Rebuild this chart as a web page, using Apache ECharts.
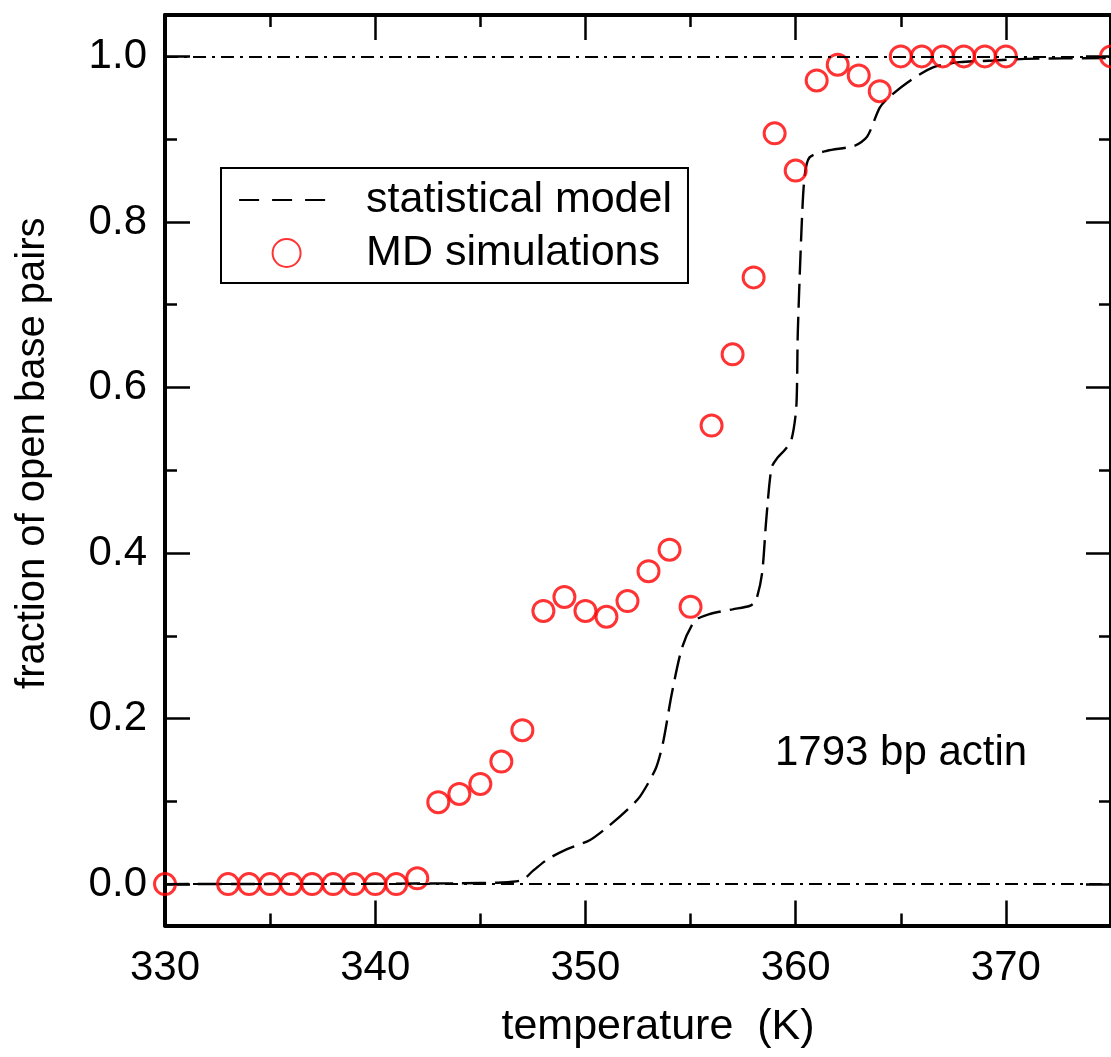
<!DOCTYPE html>
<html>
<head>
<meta charset="utf-8">
<script src="https://cdn.jsdelivr.net/npm/echarts@6/dist/echarts.min.js"></script>
<style>html,body{margin:0;padding:0;background:#fff}#c{width:1111px;height:1057px}</style>
</head>
<body>
<div id="c"></div>
<script>
// ---- data ----
const modelT = [330, 340, 344, 346, 347, 347.5, 348.2, 349.1, 350.2, 351.1, 352, 352.6, 353.35, 353.7, 354.1, 354.6, 355.2, 355.86, 357, 357.8, 358.1, 358.4, 358.6, 358.85, 359.1, 359.5, 359.8, 360.03, 360.1, 360.27, 360.42, 360.66, 361.5, 362.8, 363.4, 364.0, 364.5, 365.46, 366.56, 367.8, 369.4, 370.9, 375];
const modelF = [0, 0.0005, 0.001, 0.002, 0.005, 0.016, 0.03, 0.042, 0.053, 0.07, 0.09, 0.106, 0.14, 0.172, 0.229, 0.286, 0.318, 0.326, 0.332, 0.336, 0.342, 0.375, 0.44, 0.503, 0.514, 0.525, 0.537, 0.576, 0.665, 0.786, 0.854, 0.878, 0.886, 0.892, 0.903, 0.938, 0.952, 0.971, 0.987, 0.993, 0.995, 0.997, 0.998];
const mdT = [330, 333, 334, 335, 336, 337, 338, 339, 340, 341, 342, 343, 344, 345, 346, 347, 348, 349, 350, 351, 352, 353, 354, 355, 356, 357, 358, 359, 360, 361, 362, 363, 364, 365, 366, 367, 368, 369, 370, 375];
const mdF = [0, 0, 0, 0, 0, 0, 0, 0, 0, 0, 0.007, 0.099, 0.109, 0.121, 0.148, 0.186, 0.330, 0.347, 0.330, 0.323, 0.342, 0.378, 0.404, 0.335, 0.554, 0.640, 0.733, 0.907, 0.862, 0.971, 0.990, 0.977, 0.958, 1.0, 1.0, 1.0, 1.0, 1.0, 1.0, 1.0];
const refLines = [0, 1];
const xMajorTicks = [330, 340, 350, 360, 370];
const xMinorTicks = [335, 345, 355, 365];
const yMajorTicks = [0, 0.2, 0.4, 0.6, 0.8, 1.0];
const yMinorTicks = [0.1, 0.3, 0.5, 0.7, 0.9];
const seriesNames = ['statistical model', 'MD simulations'];
const xTitle = 'temperature  (K)';
const yTitle = 'fraction of open base pairs';
const annotation = '1793 bp actin';

// ---- chart ----
const FONT = '"Liberation Sans", Arial, Helvetica, sans-serif';
const chart = echarts.init(document.getElementById('c'), null, {renderer: 'canvas'});
const X = {min: 330, max: 375};
const Y = {min: -0.05, max: 1.05};

function xAx(pos, vals, len, showLine, labels) {
  return {
    type: 'value', position: pos, min: X.min, max: X.max,
    axisLine: {show: showLine, onZero: false, lineStyle: {color: '#000', width: 4}},
    axisTick: {show: true, inside: true, length: len, customValues: vals, lineStyle: {color: '#000', width: 2.5}},
    axisLabel: labels ? {show: true, customValues: vals, margin: 22, color: '#000', fontSize: 42, fontFamily: FONT} : {show: false},
    splitLine: {show: false}
  };
}
function yAx(pos, vals, len, showLine, labels) {
  return {
    type: 'value', position: pos, min: Y.min, max: Y.max,
    axisLine: {show: showLine, onZero: false, lineStyle: {color: '#000', width: 4}},
    axisTick: {show: true, inside: true, length: len, customValues: vals, lineStyle: {color: '#000', width: 2.5}},
    axisLabel: labels ? {show: true, customValues: vals, margin: 18, color: '#000', fontSize: 42, fontFamily: FONT,
      formatter: v => v.toFixed(1)} : {show: false},
    splitLine: {show: false}
  };
}

const xAxes = [
  xAx('bottom', xMajorTicks, 25, true, true),
  xAx('bottom', xMinorTicks, 12, false, false),
  xAx('top', xMajorTicks, 25, true, false),
  xAx('top', xMinorTicks, 12, false, false)
];
xAxes[0].name = xTitle;
xAxes[0].nameLocation = 'middle';
xAxes[0].nameGap = 80;
xAxes[0].nameTextStyle = {color: '#000', fontSize: 43, fontFamily: FONT, padding: [0, 0, 0, 40]};

const yAxes = [
  yAx('left', yMajorTicks, 25, true, true),
  yAx('left', yMinorTicks, 12, false, false),
  yAx('right', yMajorTicks, 25, true, false),
  yAx('right', yMinorTicks, 12, false, false)
];
yAxes[0].name = yTitle;
yAxes[0].nameLocation = 'middle';
yAxes[0].nameGap = 112;
yAxes[0].nameTextStyle = {color: '#000', fontSize: 40, fontFamily: FONT, padding: [0, 0, 0, 34]};

const option = {
  backgroundColor: '#fff',
  animation: false,
  grid: {left: 165, top: 15, width: 954, height: 910.5, containLabel: false},
  xAxis: xAxes,
  yAxis: yAxes,
  legend: {
    show: true, orient: 'vertical', left: 221, top: 168,
    backgroundColor: '#fff', borderColor: '#000', borderWidth: 2, borderRadius: 0,
    padding: [9, 16, 7, 17], itemGap: 7, itemWidth: 95, itemHeight: 28,
    textStyle: {color: '#000', fontSize: 43, fontFamily: FONT, lineHeight: 46, padding: [0, 0, 0, 27]},
    data: [
      {name: seriesNames[0], itemStyle: {opacity: 0}, lineStyle: {color: '#000', width: 2.2, type: [20, 13]}},
      {name: seriesNames[1]}
    ]
  },
  graphic: [{
    type: 'text', left: 775, top: 732, silent: true,
    style: {text: annotation, fill: '#000', font: '42px ' + FONT}
  }],
  series: [
    {
      name: seriesNames[0], type: 'line', xAxisIndex: 0, yAxisIndex: 0,
      data: modelT.map((t, i) => [t, modelF[i]]),
      smooth: 0.25, symbol: 'none', showSymbol: false,
      lineStyle: {color: '#000', width: 2.4, type: [24, 9]},
      itemStyle: {color: '#000'},
      markLine: {
        silent: true, symbol: ['none', 'none'], label: {show: false},
        lineStyle: {color: '#000', width: 2, type: [13, 6, 3, 6]},
        emphasis: {disabled: true},
        data: refLines.map(v => ({yAxis: v}))
      },
      z: 3
    },
    {
      name: seriesNames[1], type: 'scatter', xAxisIndex: 0, yAxisIndex: 0,
      data: mdT.map((t, i) => [t, mdF[i]]),
      symbol: 'circle', symbolSize: 21,
      itemStyle: {color: 'rgba(0,0,0,0)', borderColor: '#ff0000', borderWidth: 3},
      z: 4
    }
  ]
};
chart.setOption(option);
</script>
</body>
</html>
